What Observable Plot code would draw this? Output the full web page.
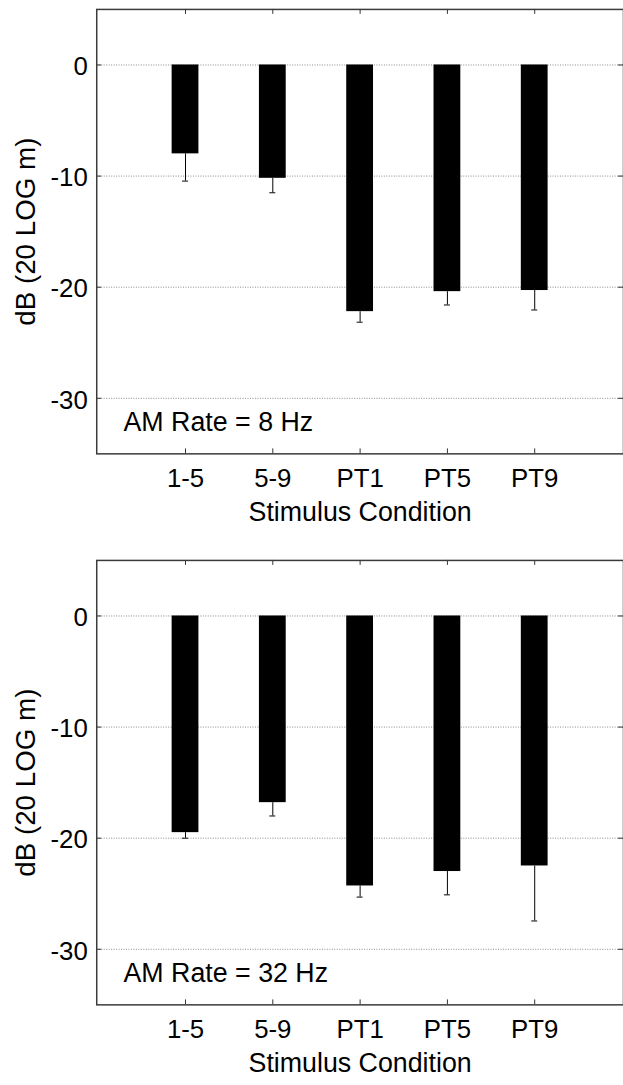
<!DOCTYPE html>
<html>
<head>
<meta charset="utf-8">
<script src="https://cdn.jsdelivr.net/npm/d3@7"></script>
<script src="https://cdn.jsdelivr.net/npm/@observablehq/plot@0.6"></script>
<style>
html, body { margin: 0; padding: 0; background: #fff; overflow: hidden; }
#chart svg { display: block; }
</style>
</head>
<body>
<div id="chart"></div>
<script>
const categories = ["1-5", "5-9", "PT1", "PT5", "PT9"];
const mean8 = [-8.0, -10.2, -22.2, -20.4, -20.3];
const err8 = [2.45, 1.3, 0.95, 1.2, 1.75];
const mean32 = [-19.5, -16.8, -24.3, -23.0, -22.5];
const err32 = [0.5, 1.2, 1.0, 2.1, 4.95];
const yTicks = [0, -10, -20, -30];
const yDomain = [-35, 5];
const panelLabels = ["AM Rate = 8 Hz", "AM Rate = 32 Hz"];
const xLabel = "Stimulus Condition";
const yLabel = "dB (20 LOG m)";

const FONT = "'Liberation Sans', Arial, Helvetica, sans-serif";
const W = 628, H = 555, mL = 97, mR = 0, mT = 9, mB = 98;
const plotH = H - mT - mB;
const tickPx = 5;
const tickLen = (yDomain[1] - yDomain[0]) * tickPx / plotH;
const frameW = W - mL - mR;

function panel(means, errs, label) {
  const data = categories.map((c, i) => ({cat: c, mean: means[i], err: errs[i]}));
  return Plot.plot({
    width: W, height: H,
    marginLeft: mL, marginRight: mR, marginTop: mT, marginBottom: mB,
    style: {fontFamily: FONT, fontSize: "26px", color: "black", background: "white"},
    x: {type: "band", domain: categories, paddingInner: 0.695, paddingOuter: 0.8475},
    y: {domain: yDomain},
    marks: [
      Plot.ruleY(yTicks, {y: d => d, stroke: "#8a8a8a", strokeWidth: 1, strokeDasharray: "1,1.5"}),
      Plot.barY(data, {x: "cat", y1: 0, y2: "mean", fill: "black"}),
      Plot.ruleX(data, {x: "cat", y1: "mean", y2: d => d.mean - d.err, stroke: "black", strokeWidth: 1}),
      Plot.tickY(data, {x: "cat", y: d => d.mean - d.err, stroke: "black", strokeWidth: 1, insetLeft: 10.5, insetRight: 10.5}),
      // inward x ticks (bottom and top)
      Plot.ruleX(categories, {x: d => d, y1: yDomain[0], y2: yDomain[0] + tickLen, stroke: "#333", strokeWidth: 1}),
      Plot.ruleX(categories, {x: d => d, y1: yDomain[1], y2: yDomain[1] - tickLen, stroke: "#333", strokeWidth: 1}),
      // inward y ticks (left and right)
      Plot.tickY(yTicks, {y: d => d, stroke: "#333", strokeWidth: 1, insetRight: frameW - tickPx}),
      Plot.tickY(yTicks, {y: d => d, stroke: "#333", strokeWidth: 1, insetLeft: frameW - tickPx}),
      Plot.frame({stroke: "#3a3a3a", strokeWidth: 1.5}),
      Plot.axisX({anchor: "bottom", tickSize: 0, tickPadding: 15, fontSize: 26, label: null}),
      Plot.axisY(yTicks, {anchor: "left", tickSize: 0, tickPadding: 9, fontSize: 26, dy: 2, tickFormat: d => String(d), label: null}),
      Plot.text([xLabel], {text: d => d, frameAnchor: "bottom", dy: 59, textAnchor: "middle", lineAnchor: "middle", fontSize: 27, fill: "black"}),
      Plot.text([yLabel], {text: d => d, frameAnchor: "left", dx: -71, rotate: -90, textAnchor: "middle", lineAnchor: "middle", fontSize: 28, fill: "black"}),
      Plot.text([label], {text: d => d, frameAnchor: "bottom-left", dx: 27, dy: -32, textAnchor: "start", lineAnchor: "middle", fontSize: 27, fill: "black"})
    ]
  });
}

const root = document.getElementById("chart");
root.appendChild(panel(mean8, err8, panelLabels[0]));
root.appendChild(panel(mean32, err32, panelLabels[1]));
</script>
</body>
</html>
